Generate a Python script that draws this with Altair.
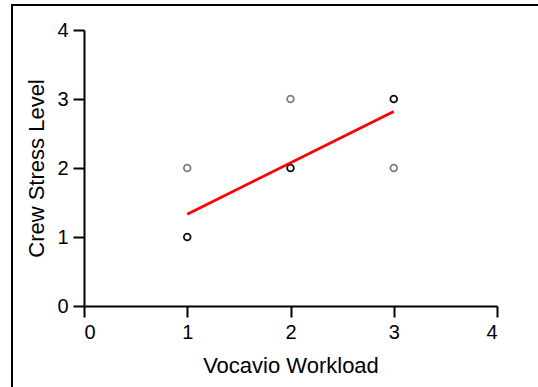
import altair as alt
import pandas as pd

# Observed points
workload = [1, 1, 2, 2, 3, 3]
stress = [1, 2, 2, 3, 3, 2]
shade = ["dark", "light", "dark", "light", "dark", "light"]

# Fitted line endpoints
fit_x = [1, 3]
fit_y = [1.33, 2.82]

pts = pd.DataFrame({"workload": workload, "stress": stress, "shade": shade})
fit = pd.DataFrame({"workload": fit_x, "stress": fit_y})

FONT = "Liberation Sans"

xscale = alt.Scale(domain=[0, 4], nice=False, zero=True)
yscale = alt.Scale(domain=[0, 4], nice=False, zero=True)

xaxis = alt.Axis(values=[0, 1, 2, 3, 4], format="d", title="Vocavio Workload",
                 grid=False, domainColor="black", domainWidth=2, tickColor="black",
                 tickWidth=2, tickSize=11, labelFont=FONT, labelFontSize=20,
                 labelColor="black", labelPadding=5, titleFont=FONT, titleFontSize=22,
                 titleFontWeight="normal", titleColor="black", titlePadding=13)
yaxis = alt.Axis(values=[0, 1, 2, 3, 4], format="d", title="Crew Stress Level",
                 grid=False, domainColor="black", domainWidth=2, tickColor="black",
                 tickWidth=2, tickSize=11, labelFont=FONT, labelFontSize=20,
                 labelColor="black", labelPadding=5, titleFont=FONT, titleFontSize=22,
                 titleFontWeight="normal", titleColor="black", titlePadding=8)

frame = alt.Chart(pd.DataFrame({"a": [0]})).mark_rect(
    fill=None, stroke="black", strokeWidth=2, clip=False
).encode(x=alt.value(-72), x2=alt.value(700), y=alt.value(-25), y2=alt.value(600))

points = alt.Chart(pts).mark_point(shape="circle", filled=False, size=45, strokeWidth=1.8).encode(
    x=alt.X("workload:Q", scale=xscale, axis=xaxis),
    y=alt.Y("stress:Q", scale=yscale, axis=yaxis),
    color=alt.Color("shade:N", scale=alt.Scale(domain=["dark", "light"], range=["#111111", "#7f7f7f"]), legend=None),
    opacity=alt.value(1),
)

line = alt.Chart(fit).mark_line(color="#ff0000", strokeWidth=2.8).encode(
    x=alt.X("workload:Q", scale=xscale),
    y=alt.Y("stress:Q", scale=yscale),
)

chart = alt.layer(frame, points, line).properties(
    width=413, height=276,
    autosize=alt.AutoSizeParams(type="none"),
    padding={"left": 84, "top": 30, "right": 41, "bottom": 81},
    background="white",
).configure_view(stroke=None)

chart.save("out.html", embed_options={"renderer": "svg", "actions": False})
